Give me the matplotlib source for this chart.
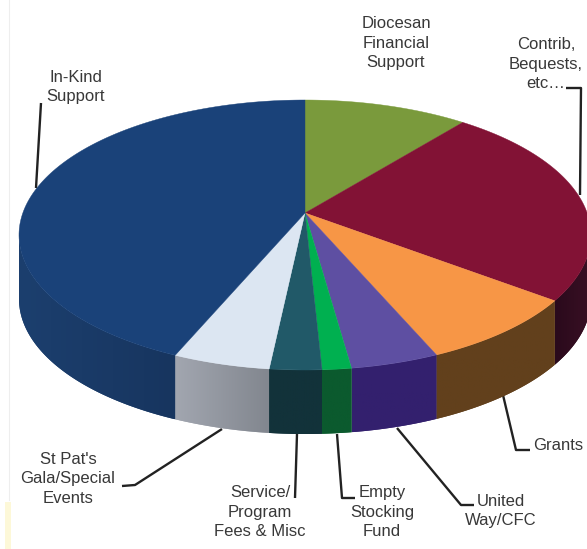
import numpy as np
import matplotlib
matplotlib.use('Agg')
import matplotlib.pyplot as plt
from matplotlib.colors import LinearSegmentedColormap
from matplotlib.patches import Polygon

# Shares, clockwise from the top
categories = ['Diocesan Financial Support', 'Contrib, Bequests, etc...', 'Grants', 'United Way/CFC',
              'Empty Stocking Fund', 'Service/Program Fees & Misc', 'St Pats Gala/Special Events', 'In-Kind Support']
shares = [9.3, 23.8, 9.3, 5.0, 1.65, 2.95, 5.5, 42.5]
top_colors = ['#7a9a3c', '#821235', '#f79646', '#5e4fa2', '#00b050', '#215968', '#dce6f2', '#1a4279']
side_left = ['#5a7030', '#2a0a1c', '#62401c', '#33206e', '#0b5a2e', '#12323a', '#a2a6b0', '#1c3f6e']
side_right = ['#5a7030', '#3a1024', '#62401c', '#33206e', '#0b5a2e', '#12323a', '#82878f', '#17355f']

# Geometry of the tilted pie, in picture pixels
cx, cy = 305, 235
rx, ry = 286, 135
apex = (305, 213)
depth = 64

fig = plt.figure(figsize=(5.87, 5.49), dpi=100)
ax = fig.add_axes([0, 0, 1, 1])


def rim(t):
    # t in degrees, clockwise from the top of the ellipse
    t = np.radians(t)
    return cx + rx * np.sin(t), cy - ry * np.cos(t)


edges = np.concatenate([[0], np.cumsum(shares)]) / sum(shares) * 360

# Side walls first, only the front half of the rim shows
for i in range(len(shares)):
    a = max(edges[i], 90)
    b = min(edges[i + 1], 270)
    if b <= a:
        continue
    xs, ys = rim(np.linspace(a, b, 120))
    wall = Polygon(np.c_[np.r_[xs, xs[::-1]], np.r_[ys, ys[::-1] + depth]], closed=True,
                   facecolor=side_left[i], edgecolor='none', zorder=2)
    ax.add_patch(wall)
    cmap = LinearSegmentedColormap.from_list('wall', [side_left[i], side_right[i]])
    grad = np.linspace(0, 1, 64).reshape(1, -1)
    im = ax.imshow(grad, cmap=cmap, aspect='auto', zorder=2.1,
                   extent=(xs.min(), xs.max(), ys.max() + depth, ys.min()))
    im.set_clip_path(wall)

# Top face
for i in range(len(shares)):
    xs, ys = rim(np.linspace(edges[i], edges[i + 1], 150))
    ax.fill(np.r_[apex[0], xs], np.r_[apex[1], ys], color=top_colors[i], lw=0.3, zorder=3)

# Leader lines
leaders = [
    ([41, 36], [103, 188]),
    ([566, 581, 580], [88, 88, 195]),
    ([503, 516, 530], [395, 450, 450]),
    ([397, 461, 474], [428, 505, 505]),
    ([337, 342, 355], [434, 498, 498]),
    ([297, 295], [434, 498]),
    ([222, 135, 122], [429, 485, 486]),
]
for lx, ly in leaders:
    ax.plot(lx, ly, color='#222222', lw=1.7, solid_capstyle='butt', zorder=1)

# Labels
labels = [
    ('Diocesan\nFinancial\nSupport', 396, 43),
    ('Contrib,\nBequests,\netc\u2026', 546, 64),
    ('In-Kind\nSupport', 76, 87),
    ('Grants', 558, 445),
    ('United\nWay/CFC', 501, 511),
    ('Empty\nStocking\nFund', 382, 512),
    ('Service/\nProgram\nFees & Misc', 260, 512),
    ("St Pat's\nGala/Special\nEvents", 68, 479),
]
for text, x, y in labels:
    ax.text(x, y, text, ha='center', va='center', fontsize=12, family='Liberation Sans',
            color='#383838', linespacing=1.4, zorder=5)

# Scan marks at the left edge of the page
ax.plot([9, 9], [0, 500], color='#eeeeee', lw=0.8, zorder=0)
ax.fill_between([5, 11], 502, 549, color='#fdf8d8', lw=0, zorder=0)

ax.set_xlim(0, 587)
ax.set_ylim(549, 0)
ax.axis('off')

fig.savefig('out.png', dpi=100)
